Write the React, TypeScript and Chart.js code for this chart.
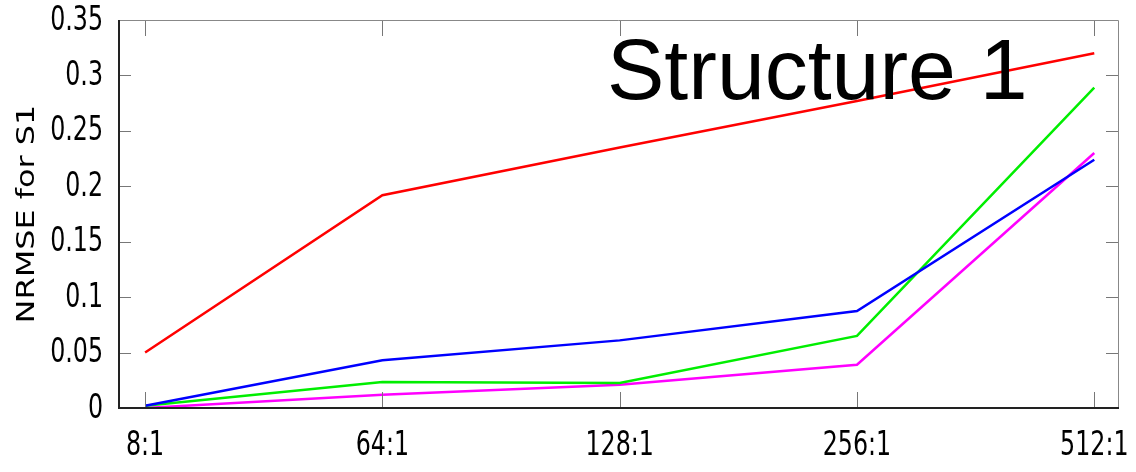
import React, { useEffect, useRef } from "react";
import { Chart, registerables } from "chart.js";

Chart.register(...registerables);

const categories = ["8:1", "64:1", "128:1", "256:1", "512:1"];
const redValues = [0.05, 0.192, 0.235, 0.277, 0.32];
const blueValues = [0.002, 0.043, 0.061, 0.0875, 0.224];
const greenValues = [0.002, 0.0235, 0.0225, 0.065, 0.289];
const magentaValues = [0.0, 0.012, 0.021, 0.039, 0.23];
const yTicks = [0, 0.05, 0.1, 0.15, 0.2, 0.25, 0.3, 0.35];
const chartTitle = "Structure 1";
const yAxisTitle = "NRMSE for S1";

const toPoints = (vals: number[]) => vals.map((v, i) => ({ x: i, y: v }));

const tickFont = '33px "DejaVu Sans Condensed", "Liberation Sans Narrow", sans-serif';
const SQ = 0.8;

const framePlugin = {
  id: "frameTicks",
  afterDatasetsDraw(chart: any) {
    const { ctx, chartArea, scales } = chart;
    const { left, right, top, bottom } = chartArea;
    ctx.save();
    ctx.strokeStyle = "#777";
    ctx.lineWidth = 1;
    yTicks.forEach((v) => {
      const y = Math.round(scales.y.getPixelForValue(v)) + 0.5;
      ctx.beginPath();
      ctx.moveTo(left, y);
      ctx.lineTo(left + 12, y);
      ctx.moveTo(right, y);
      ctx.lineTo(right - 12, y);
      ctx.stroke();
    });
    categories.forEach((_, i) => {
      const x = Math.round(scales.x.getPixelForValue(i)) + 0.5;
      ctx.beginPath();
      ctx.moveTo(x, bottom);
      ctx.lineTo(x, bottom - 16);
      ctx.moveTo(x, top);
      ctx.lineTo(x, top + 16);
      ctx.stroke();
    });
    ctx.strokeStyle = "#888";
    ctx.lineWidth = 1;
    ctx.beginPath();
    ctx.moveTo(left, top + 0.5);
    ctx.lineTo(right + 0.5, top + 0.5);
    ctx.lineTo(right + 0.5, bottom);
    ctx.stroke();
    ctx.strokeStyle = "#222";
    ctx.lineWidth = 2;
    ctx.beginPath();
    ctx.moveTo(left, top);
    ctx.lineTo(left, bottom);
    ctx.lineTo(right + 1, bottom);
    ctx.stroke();

    // tick labels (condensed)
    ctx.fillStyle = "#000";
    ctx.font = tickFont;
    ctx.save();
    ctx.scale(SQ, 1);
    ctx.textAlign = "right";
    ctx.textBaseline = "middle";
    yTicks.forEach((v) => {
      const y = scales.y.getPixelForValue(v);
      ctx.fillText(String(v), (left - 16) / SQ, y + 1);
    });
    ctx.textAlign = "center";
    categories.forEach((c, i) => {
      const x = scales.x.getPixelForValue(i);
      ctx.fillText(c, x / SQ, bottom + 38);
    });
    ctx.restore();

    // big title
    ctx.font = '86px "Liberation Sans", Arial, sans-serif';
    ctx.textAlign = "left";
    ctx.textBaseline = "alphabetic";
    ctx.fillText(chartTitle, 607, 99);

    // y axis title
    ctx.save();
    ctx.translate(34, (top + bottom) / 2);
    ctx.rotate(-Math.PI / 2);
    ctx.scale(1.33, 1);
    ctx.font = '24px "DejaVu Sans", sans-serif';
    ctx.textAlign = "center";
    ctx.textBaseline = "alphabetic";
    ctx.fillText(yAxisTitle, 0, 0);
    ctx.restore();
    ctx.restore();
  },
};

export default function App() {
  const ref = useRef<HTMLCanvasElement | null>(null);
  useEffect(() => {
    document.body.style.margin = "0";
    const canvas = ref.current!;
    const chart = new Chart(canvas, {
      type: "line",
      data: {
        datasets: [
          { data: toPoints(redValues), borderColor: "#ff0000" },
          { data: toPoints(blueValues), borderColor: "#0000ff" },
          { data: toPoints(greenValues), borderColor: "#00ee00" },
          { data: toPoints(magentaValues), borderColor: "#ff00ff" },
        ].map((d) => ({ ...d, borderWidth: 2.5, pointRadius: 0, fill: false, tension: 0 })),
      },
      options: {
        responsive: false,
        animation: false,
        layout: { padding: { top: 20, right: 18, left: 0, bottom: 0 } },
        plugins: { legend: { display: false }, tooltip: { enabled: false }, title: { display: false } },
        scales: {
          x: {
            type: "linear",
            min: -0.11,
            max: 4.1,
            afterFit: (s: any) => { s.height = 64; s.paddingLeft = 0; s.paddingRight = 0; },
            afterBuildTicks: (s: any) => { s.ticks = categories.map((_, i) => ({ value: i })); },
            ticks: { display: false },
            grid: { display: false, drawTicks: false },
            border: { display: false },
          },
          y: {
            min: 0,
            max: 0.35,
            afterFit: (s: any) => { s.width = 119; s.paddingTop = 0; s.paddingBottom = 0; },
            afterBuildTicks: (s: any) => { s.ticks = yTicks.map((v) => ({ value: v })); },
            ticks: { display: false },
            grid: { display: false, drawTicks: false },
            border: { display: false },
            title: { display: false },
          },
        },
      },
      plugins: [framePlugin],
    });
    return () => chart.destroy();
  }, []);
  return (
    <div style={{ width: 1136, height: 472, background: "#fff" }}>
      <canvas ref={ref} width={1136} height={472} style={{ display: "block" }} />
    </div>
  );
}
